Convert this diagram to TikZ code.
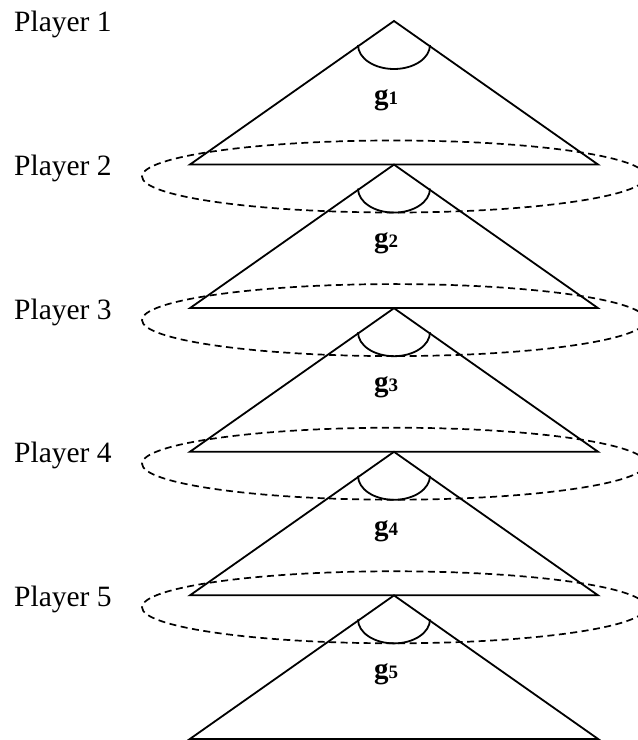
\documentclass[tikz,border=0pt]{standalone}
\usepackage{fontspec}
\setmainfont{Liberation Serif}
\usetikzlibrary{shapes.geometric}
\begin{document}
\begin{tikzpicture}[x=1pt,y=1pt,
  edge/.style={line width=1.8pt,line join=miter},
  infoset/.style={line width=1.7pt,dash pattern=on 7pt off 4.5pt},
  playerlabel/.style={anchor=base west,inner sep=0pt,font=\fontsize{29.5}{34}\selectfont},
  gamelabel/.style={inner sep=0pt,font=\fontsize{29}{33}\selectfont\bfseries}]
\useasboundingbox (0,0) rectangle (638,740);
\clip (0,0) rectangle (638,740);
% information sets joining the leaves of one stage to the next player
\foreach \k in {1,...,4}{
  \pgfmathsetmacro\cy{740-21-143.6*(\k-1)-143.5-12}
  \node[draw,infoset,ellipse,minimum width=504pt,minimum height=72pt,inner sep=0pt] (set\k) at (394,\cy) {};
}
% one sub-game tree per player
\foreach \i in {1,...,5}{
  \pgfmathsetmacro\ay{740-21-143.6*(\i-1)}
  \coordinate (apex\i) at (394,\ay);
  \coordinate (left\i) at (190,\ay-143.5);
  \coordinate (right\i) at (598,\ay-143.5);
  \draw[edge] (apex\i) -- (left\i) -- (right\i) -- cycle;
  \draw[edge] ([shift={(-36pt,-24pt)}]apex\i) arc[start angle=180,end angle=360,x radius=36pt,y radius=24pt];
  \node[gamelabel] (g\i) at (386,\ay-79) {g{\fontsize{19}{22}\selectfont\i}};
  \node[playerlabel] (p\i) at (14,\ay-11) {Player \i};
}
\end{tikzpicture}
\end{document}
